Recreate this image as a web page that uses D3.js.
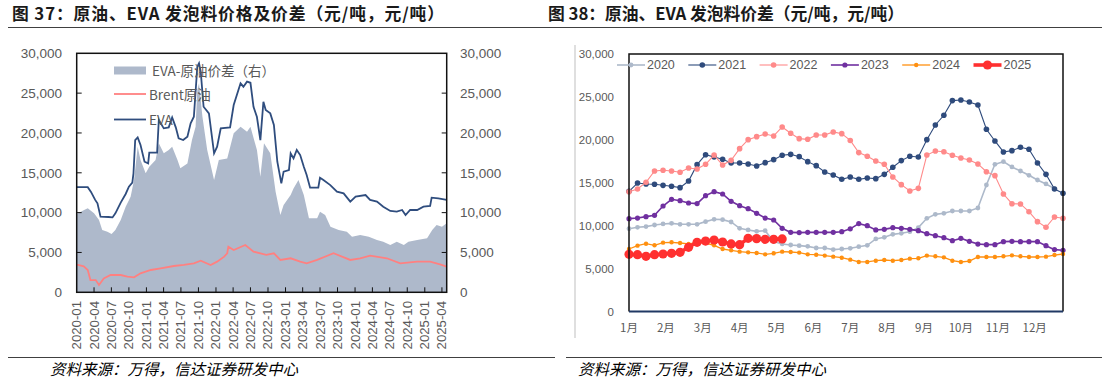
<!DOCTYPE html>
<html><head><meta charset="utf-8">
<script src="https://cdn.jsdelivr.net/npm/d3@7"></script>
<style>
body{margin:0;background:#fff}
svg{display:block}
text{font-family:"Liberation Sans",Arial,sans-serif}
.cjk{font-family:"Noto Sans CJK SC","Liberation Sans",sans-serif}
</style>
</head><body>
<svg id="c" width="1107" height="382"></svg>
<script>
// ---------- DATA: left chart (元/吨) ----------
const evaSeries = [
["2020-01-02",13200],["2020-02-28",13200],["2020-03-16",12600],["2020-04-07",11600],["2020-04-19",11170],
["2020-05-05",9490],["2020-06-16",9450],["2020-07-07",9400],["2020-07-22",9910],["2020-08-19",11250],
["2020-09-14",12340],["2020-10-01",13250],["2020-10-19",13760],["2020-10-25",14930],["2020-11-03",19110],
["2020-11-16",19450],["2020-12-01",18490],["2020-12-22",16390],["2021-01-10",16180],["2021-01-16",17520],
["2021-02-26",17520],["2021-03-07",21620],["2021-04-02",20580],["2021-04-28",20700],["2021-05-16",21960],
["2021-06-04",20700],["2021-06-19",19330],["2021-07-13",19120],["2021-08-04",19540],["2021-08-21",21210],
["2021-09-07",22040],["2021-09-25",28310],["2021-10-04",28740],["2021-10-13",27690],["2021-10-28",23290],
["2021-11-25",22460],["2021-12-22",17440],["2022-01-07",18280],["2022-01-26",20580],["2022-03-16",20700],
["2022-04-04",23510],["2022-05-10",26230],["2022-05-25",25810],["2022-06-13",26440],["2022-07-01",26300],
["2022-07-17",23290],["2022-08-04",22000],["2022-08-22",19110],["2022-09-07",23920],["2022-09-19",22880],
["2022-10-13",22460],["2022-11-01",21000],["2022-11-19",16390],["2022-12-10",13680],["2022-12-22",15140],
["2023-01-19",15350],["2023-01-28",17440],["2023-02-12",16810],["2023-03-01",17860],["2023-03-19",17230],
["2023-04-07",15770],["2023-04-22",14720],["2023-05-10",13130],["2023-06-22",13130],["2023-07-01",14380],
["2023-07-19",14090],["2023-08-24",13460],["2023-09-28",12630],["2023-11-02",12420],["2023-12-07",11380],
["2024-01-04",12000],["2024-02-25",12210],["2024-03-20",11590],["2024-04-25",11380],["2024-05-28",10750],
["2024-07-04",10210],["2024-08-07",10120],["2024-09-04",10330],["2024-09-22",9700],["2024-10-16",10330],
["2024-11-22",10330],["2024-12-25",10750],["2025-01-29",10840],["2025-02-06",11880],["2025-03-13",11800],
["2025-04-26",11590]
];
const brentSeries = [
["2020-01-02",3450],["2020-01-08",3430],["2020-02-07",3250],["2020-02-28",2800],["2020-03-13",1540],
["2020-04-10",1540],["2020-04-27",920],["2020-05-22",1750],["2020-06-27",2170],["2020-08-19",2170],
["2020-09-23",1960],["2020-10-28",1880],["2020-12-01",2380],["2021-01-24",2800],["2021-03-16",3010],
["2021-05-25",3300],["2021-07-16",3430],["2021-09-07",3640],["2021-10-13",3970],["2021-12-04",3430],
["2022-01-07",3850],["2022-02-13",4480],["2022-03-01",4900],["2022-03-07",5730],["2022-04-04",5310],
["2022-06-04",5940],["2022-07-17",5100],["2022-09-22",4690],["2022-11-01",4900],["2022-12-05",4060],
["2023-01-28",4270],["2023-03-19",3850],["2023-04-22",3640],["2023-06-16",4060],["2023-09-10",4900],
["2023-12-07",4060],["2024-01-28",4270],["2024-03-20",4600],["2024-06-16",4270],["2024-08-25",3640],
["2024-11-22",3850],["2025-01-29",3850],["2025-03-22",3510],["2025-04-26",3220]
];
const spreadSeries = [
["2020-01-02",9900],["2020-01-08",9910],["2020-02-09",10330],["2020-02-28",10540],["2020-04-01",9910],
["2020-04-27",9070],["2020-05-14",7820],["2020-06-10",7610],["2020-07-02",7320],["2020-07-22",7820],
["2020-08-19",9070],["2020-09-14",10750],["2020-10-10",12000],["2020-10-28",14090],["2020-11-16",18280],
["2020-12-01",16600],["2020-12-28",14930],["2021-01-16",15770],["2021-02-18",16600],["2021-03-07",18700],
["2021-04-02",17440],["2021-04-28",17860],["2021-05-16",18280],["2021-06-13",16600],["2021-06-28",15560],
["2021-08-04",16180],["2021-08-28",19110],["2021-09-16",20790],["2021-09-25",25390],["2021-10-04",26230],
["2021-10-22",22040],["2021-11-16",17860],["2021-12-22",14090],["2022-01-16",16600],["2022-03-01",16810],
["2022-04-04",19950],["2022-05-10",20790],["2022-06-13",20160],["2022-07-01",20790],["2022-08-04",17860],
["2022-08-22",14510],["2022-09-10",18700],["2022-10-13",17440],["2022-11-10",12630],["2022-12-05",9700],
["2022-12-22",10960],["2023-01-28",12210],["2023-02-12",13040],["2023-03-10",14090],["2023-04-07",12210],
["2023-05-04",9280],["2023-06-16",9280],["2023-07-01",10120],["2023-07-28",9700],["2023-08-25",8240],
["2023-10-07",7820],["2023-11-19",7610],["2023-12-16",6980],["2024-01-28",7190],["2024-03-13",6980],
["2024-04-25",6560],["2024-05-28",6350],["2024-07-04",5940],["2024-08-07",6350],["2024-09-13",5940],
["2024-10-07",6350],["2024-11-22",6560],["2025-01-13",6770],["2025-02-09",7820],["2025-03-04",8450],
["2025-04-01",8240],["2025-04-26",8660]
];
const yTicks = [0,5000,10000,15000,20000,25000,30000];
const leftLegend = ["EVA-原油价差（右）","Brent原油","EVA"];

// ---------- DATA: right chart (weekly, 元/吨) ----------
const monthLabels = ["1月","2月","3月","4月","5月","6月","7月","8月","9月","10月","11月","12月"];
const years = ["2020","2021","2022","2023","2024","2025"];
const v2020 = [9650,9810,9890,10080,10200,10270,10160,10160,10160,10470,10740,10700,10430,9690,9500,9340,9420,8140,7870,7750,7670,7590,7400,7400,7210,7280,7360,7550,7710,8450,8640,8990,9110,9300,9770,10860,11320,11440,11710,11710,11710,12060,14740,17150,17460,16840,16370,15870,15320,14860,14310];
const v2021 = [14000,14970,14860,14820,14700,14590,14430,15200,17110,18270,18000,17730,17300,17300,17190,16950,17340,17690,18200,18310,18040,17460,16990,16250,15900,15400,15670,15400,15560,15480,15980,16800,17580,18080,18000,20020,21730,22860,24570,24640,24410,24060,21230,19870,18590,18740,19130,18900,17300,15980,14270,13770];
const v2022 = [13960,14270,15050,16370,16450,16370,16220,16720,16600,17150,18230,17070,17610,18970,20020,20370,20680,20450,21500,20760,20140,20060,20570,20570,20920,20720,19930,18510,18080,17540,17150,15670,14780,14040,14350,18230,18700,18620,18200,17890,17650,17190,16290,15830,13690,12560,12530,11630,10470,9810,11010,10860];
const v2023 = [10820,10890,11050,11210,12290,13070,12910,12640,12570,13500,13960,13690,12840,12330,11980,11440,10890,10660,9690,9220,9190,9220,9220,9220,9220,9300,9630,10240,10000,9500,9570,9770,9690,9570,9420,9070,8830,8600,8250,8520,8170,7860,7790,7790,8140,8170,8140,8140,8140,7670,7210,7130];
const v2024 = [7280,7670,7900,7710,8020,8060,7980,7870,8020,7980,7710,7280,7130,6970,6890,6820,6660,6780,6970,6930,6860,6660,6620,6510,6390,6270,6040,5770,5770,5920,6000,5920,6000,6160,6200,6510,6430,6310,5920,5770,5880,6350,6350,6350,6430,6540,6430,6350,6350,6390,6580,6700];
const v2025 = [6660,6620,6430,6620,6700,6780,6890,7480,8060,8210,8330,8100,7870,7790,8530,8490,8410,8410,8450];

// ---------- DRAW ----------
const svg = d3.select("#c");
const fmt = d3.format(",");
const parse = d3.timeParse("%Y-%m-%d");
const labelColor = "#595959";

// titles + rules
svg.append("text").attr("class","cjk").attr("x",12).attr("y",20)
  .attr("font-size",16.8).attr("font-weight","bold").attr("fill","#1a1a1a")
  .attr("textLength",432).attr("lengthAdjust","spacing")
  .text("图 37：原油、EVA 发泡料价格及价差（元/吨，元/吨）");
svg.append("text").attr("class","cjk").attr("x",548).attr("y",20)
  .attr("font-size",16.8).attr("font-weight","bold").attr("fill","#1a1a1a")
  .attr("textLength",356).attr("lengthAdjust","spacing")
  .text("图 38：原油、EVA 发泡料价差（元/吨，元/吨）");
[[8,555],[544,1102]].forEach(([a,b])=>{
  svg.append("line").attr("x1",a).attr("x2",b).attr("y1",27.5).attr("y2",27.5).attr("stroke","#404040").attr("stroke-width",1);
});
[[8,555],[566,1102]].forEach(([a,b])=>{
  svg.append("line").attr("x1",a).attr("x2",b).attr("y1",357.5).attr("y2",357.5).attr("stroke","#404040").attr("stroke-width",1);
});
svg.append("text").attr("class","cjk").attr("x",50).attr("y",375).attr("font-size",15.5)
  .attr("font-style","italic").attr("fill","#000").text("资料来源：万得，信达证券研发中心");
svg.append("text").attr("class","cjk").attr("x",578).attr("y",375).attr("font-size",15.5)
  .attr("font-style","italic").attr("fill","#000").text("资料来源：万得，信达证券研发中心");

// ===== LEFT CHART =====
const L = {x0:76.7, x1:446.7, y0:53.3, y1:292.3};
const xL = d3.scaleTime().domain([new Date(2020,0,1), new Date(2025,3,26)]).range([L.x0, L.x1]);
const yL = d3.scaleLinear().domain([0,30000]).range([L.y1, L.y0]);
const yL2 = d3.scaleLinear().domain([0,30000]).range([L.y1, L.y0]);
const toPts = s => s.map(([d,v])=>({date:parse(d), v}));
const eva = toPts(evaSeries), brent = toPts(brentSeries), spread = toPts(spreadSeries);

const gL = svg.append("g");
gL.append("path").datum(spread)
  .attr("d", d3.area().x(d=>xL(d.date)).y0(yL2(0)).y1(d=>yL2(d.v)))
  .attr("fill","#aeb9cb");
gL.append("path").datum(brent)
  .attr("d", d3.line().x(d=>xL(d.date)).y(d=>yL(d.v)))
  .attr("fill","none").attr("stroke","#ff8080").attr("stroke-width",1.8);
gL.append("path").datum(eva)
  .attr("d", d3.line().x(d=>xL(d.date)).y(d=>yL(d.v)))
  .attr("fill","none").attr("stroke","#2f4d7e").attr("stroke-width",1.8);
gL.append("rect").attr("x",L.x0).attr("y",L.y0).attr("width",L.x1-L.x0).attr("height",L.y1-L.y0)
  .attr("fill","none").attr("stroke","#111").attr("stroke-width",1.5);

// left / right y axes
yTicks.forEach(t=>{
  gL.append("text").attr("x",62).attr("y",yL(t)).attr("dy","0.35em").attr("text-anchor","end")
    .attr("font-size",13.5).attr("fill",labelColor).text(fmt(t));
  gL.append("text").attr("x",460).attr("y",yL2(t)).attr("dy","0.35em").attr("text-anchor","start")
    .attr("font-size",13.5).attr("fill",labelColor).text(fmt(t));
  if (t>0 && t<30000){
    gL.append("line").attr("x1",L.x0).attr("x2",L.x0+5).attr("y1",yL(t)).attr("y2",yL(t)).attr("stroke","#111");
    gL.append("line").attr("x1",L.x1-5).attr("x2",L.x1).attr("y1",yL2(t)).attr("y2",yL2(t)).attr("stroke","#111");
  }
});
// x axis quarterly
const qTicks = d3.timeMonth.every(3).range(new Date(2020,0,1), new Date(2025,4,1));
const qf = d3.timeFormat("%Y-%m");
qTicks.forEach(d=>{
  const x = xL(d);
  if (d > new Date(2020,0,1))
    gL.append("line").attr("x1",x).attr("x2",x).attr("y1",L.y1).attr("y2",L.y1-5).attr("stroke","#111");
  gL.append("text").attr("transform",`translate(${x+4.5},301) rotate(-90)`)
    .attr("text-anchor","end").attr("font-size",13.2).attr("fill",labelColor).text(qf(d));
});
// legend left
gL.append("rect").attr("x",114).attr("y",66.5).attr("width",32).attr("height",8).attr("fill","#aeb9cb");
gL.append("line").attr("x1",114).attr("x2",146).attr("y1",94).attr("y2",94).attr("stroke","#ff8080").attr("stroke-width",1.8);
gL.append("line").attr("x1",114).attr("x2",146).attr("y1",119.5).attr("y2",119.5).attr("stroke","#2f4d7e").attr("stroke-width",1.8);
[[152,71],[149,95],[149,120]].forEach(([x,y],i)=>{
  gL.append("text").attr("class","cjk").attr("x",x).attr("y",y).attr("dy","0.35em")
    .attr("font-size",13.5).attr("fill",labelColor).text(leftLegend[i]);
});

// ===== RIGHT CHART =====
const R = {x0:629, x1:1063, y0:54, y1:311.5};
const xR = d3.scaleLinear().domain([0,51]).range([R.x0, R.x1]);
const yR = d3.scaleLinear().domain([0,30000]).range([R.y1, R.y0]);
const gR = svg.append("g");
gR.append("line").attr("x1",575).attr("x2",575).attr("y1",45).attr("y2",338).attr("stroke","#bfbfbf");

const styles = {
  "2020":{c:"#adb9ca", w:1.6, r:2.4, v:v2020},
  "2021":{c:"#2f4b7c", w:1.1, r:2.8, v:v2021},
  "2022":{c:"#ff8a8a", w:1.1, r:2.8, v:v2022},
  "2023":{c:"#7030a0", w:1.6, r:2.6, v:v2023},
  "2024":{c:"#ff9010", w:1.3, r:2.2, v:v2024},
  "2025":{c:"#ff3030", w:3.6, r:4.6, v:v2025}
};
const lineR = d3.line().x((d,i)=>xR(i)).y(d=>yR(d));
years.forEach(y=>{
  const s = styles[y];
  const g = gR.append("g");
  g.append("path").datum(s.v).attr("d",lineR).attr("fill","none").attr("stroke",s.c).attr("stroke-width",s.w);
  g.selectAll("circle").data(s.v).join("circle").attr("cx",(d,i)=>xR(i)).attr("cy",d=>yR(d)).attr("r",s.r).attr("fill",s.c);
});
// frame
gR.append("path").attr("d",`M${R.x0},${R.y1}V${R.y0}H${R.x1}V${R.y1}`).attr("fill","none").attr("stroke","#111").attr("stroke-width",1.5);
gR.append("line").attr("x1",R.x0).attr("x2",R.x1).attr("y1",R.y1).attr("y2",R.y1).attr("stroke","#203864").attr("stroke-width",2);
// y labels
yTicks.forEach(t=>{
  gR.append("text").attr("x",614).attr("y",yR(t)).attr("dy","0.35em").attr("text-anchor","end")
    .attr("font-size",11.5).attr("fill",labelColor).text(fmt(t));
});
// month labels
monthLabels.forEach((m,k)=>{
  gR.append("text").attr("class","cjk").attr("x",xR(k*52/12)).attr("y",328).attr("dy","0.35em").attr("text-anchor","middle")
    .attr("font-size",11.5).attr("fill",labelColor).text(m);
});
// legend
years.forEach((y,i)=>{
  const s = styles[y];
  const x = 617 + i*71.3, yy = 65;
  gR.append("line").attr("x1",x).attr("x2",x+28).attr("y1",yy).attr("y2",yy).attr("stroke",s.c).attr("stroke-width",s.w);
  gR.append("circle").attr("cx",x+14).attr("cy",yy).attr("r",s.r).attr("fill",s.c);
  gR.append("text").attr("x",x+30).attr("y",yy).attr("dy","0.35em").attr("font-size",12.5).attr("fill",labelColor).text(y);
});
</script>
</body></html>
